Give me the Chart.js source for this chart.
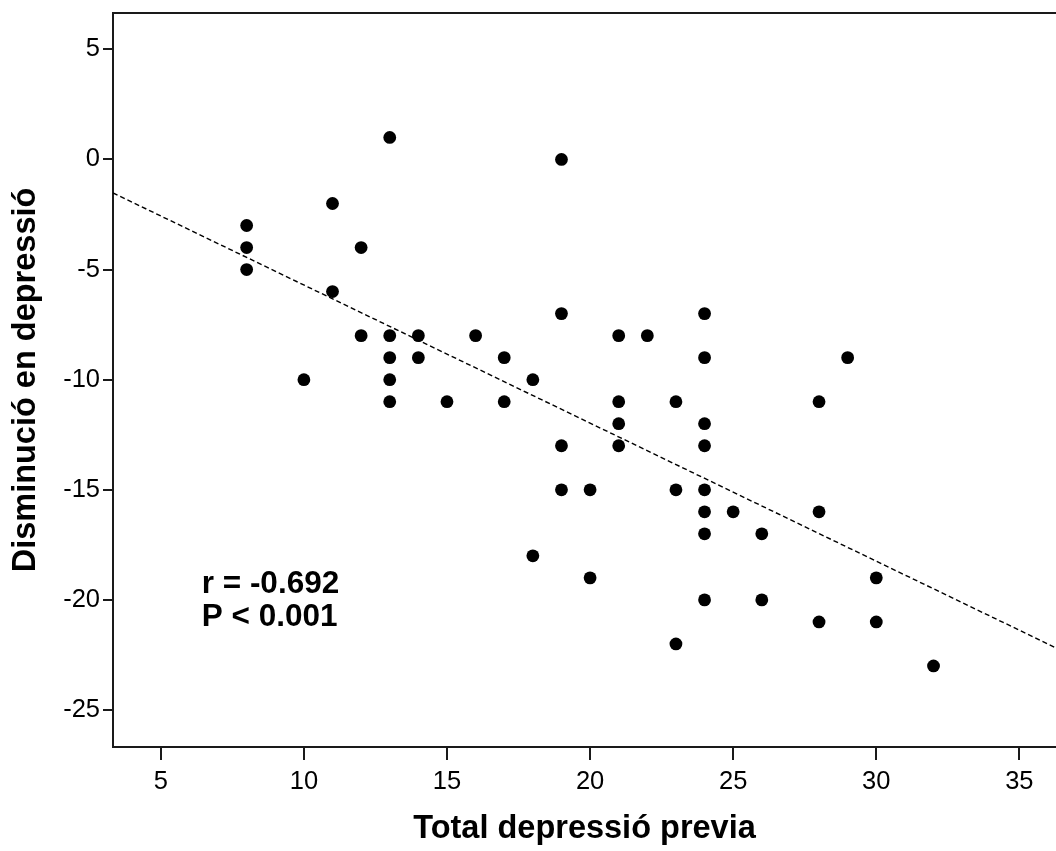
<!DOCTYPE html>
<html>
<head>
<meta charset="utf-8">
<script src="https://cdn.jsdelivr.net/npm/chart.js@4/dist/chart.umd.min.js"></script>
<style>
  html, body { margin: 0; padding: 0; background: #fff; }
  #wrap { width: 1056px; height: 851px; }
</style>
</head>
<body>
<div id="wrap"><canvas id="c" width="1056" height="851"></canvas></div>
<script>
// scatter of previous depression total vs. drop in depression score
const prevTotal = [8, 8, 8, 10, 11, 11, 12, 12, 13, 13, 13, 13, 13, 14, 14, 15, 16, 17, 17, 18, 18,
  19, 19, 19, 19, 20, 20, 21, 21, 21, 21, 22, 23, 23, 23,
  24, 24, 24, 24, 24, 24, 24, 24, 25, 26, 26, 28, 28, 28, 29, 30, 30, 32];
const decrease = [-3, -4, -5, -10, -2, -6, -4, -8, 1, -8, -9, -10, -11, -8, -9, -11, -8, -9, -11, -10, -18,
  0, -7, -13, -15, -15, -19, -8, -11, -12, -13, -8, -11, -15, -22,
  -7, -9, -12, -13, -15, -16, -17, -20, -16, -17, -20, -11, -16, -21, -9, -19, -21, -23];

// fit line, end points read at the plot edges
const fitX = [3.33, 36.28];
const fitY = [-1.52, -22.18];

const xTicks = [5, 10, 15, 20, 25, 30, 35];
const yTicks = [5, 0, -5, -10, -15, -20, -25];

const statLines = ["r = -0.692", "P < 0.001"];
const statX = 6.43;
const statY = [-19.68, -21.18];

const FONT = "Arial, 'Liberation Sans', sans-serif";
const AXIS = "#1a1a1a";

const frameTop = {
  id: "frameTop",
  afterDraw(chart) {
    const { ctx, chartArea } = chart;
    ctx.save();
    ctx.strokeStyle = AXIS;
    ctx.lineWidth = 2;
    ctx.beginPath();
    ctx.moveTo(chartArea.left - 1, chartArea.top);
    ctx.lineTo(chartArea.right, chartArea.top);
    ctx.stroke();
    // r / P annotation
    const xs = chart.scales.x, ys = chart.scales.y;
    ctx.fillStyle = "#000";
    ctx.font = "bold 31.5px " + FONT;
    ctx.textAlign = "left";
    ctx.textBaseline = "alphabetic";
    statLines.forEach((t, i) => {
      ctx.fillText(t, xs.getPixelForValue(statX), ys.getPixelForValue(statY[i]));
    });
    ctx.restore();
  },
};

new Chart(document.getElementById("c"), {
  type: "scatter",
  data: {
    datasets: [
      {
        data: prevTotal.map((x, i) => ({ x, y: decrease[i] })),
        backgroundColor: "#000",
        borderWidth: 0,
        pointRadius: 6.4,
        order: 1,
      },
      {
        type: "line",
        data: fitX.map((x, i) => ({ x, y: fitY[i] })),
        borderColor: "#000",
        borderWidth: 1.4,
        borderDash: [5, 3],
        pointRadius: 0,
        fill: false,
        order: 2,
      },
    ],
  },
  options: {
    responsive: false,
    animation: false,
    devicePixelRatio: 1,
    layout: { autoPadding: false, padding: { top: 13, right: 0, left: 0, bottom: 0 } },
    plugins: { legend: { display: false }, tooltip: { enabled: false } },
    scales: {
      x: {
        type: "linear",
        min: fitX[0],
        max: fitX[1],
        afterBuildTicks: (s) => { s.ticks = xTicks.map((v) => ({ value: v })); },
        afterFit: (s) => { s.height = 104; s.paddingLeft = 0; s.paddingRight = 0; },
        border: { display: true, color: AXIS, width: 2 },
        grid: { drawOnChartArea: false, drawTicks: true, tickLength: 13, color: AXIS, lineWidth: 2 },
        ticks: { color: "#000", font: { family: FONT, size: 25.5 }, padding: 7, maxRotation: 0, autoSkip: false },
        title: {
          display: true,
          text: "Total depressió previa",
          color: "#000",
          font: { family: FONT, size: 32.5, weight: "bold" },
          padding: { top: 0, bottom: 2 },
        },
      },
      y: {
        type: "linear",
        min: -26.68,
        max: 6.65,
        afterBuildTicks: (s) => { s.ticks = yTicks.map((v) => ({ value: v })); },
        afterFit: (s) => { s.width = 113; s.paddingTop = 0; s.paddingBottom = 0; },
        border: { display: true, color: AXIS, width: 2 },
        grid: { drawOnChartArea: false, drawTicks: true, tickLength: 10, color: AXIS, lineWidth: 2 },
        ticks: { color: "#000", font: { family: FONT, size: 25.5 }, padding: 3 },
        title: {
          display: true,
          text: "Disminució en depressió",
          color: "#000",
          font: { family: FONT, size: 32.5, weight: "bold" },
          padding: { top: 7, bottom: 0 },
        },
      },
    },
  },
  plugins: [frameTop],
});
</script>
</body>
</html>
